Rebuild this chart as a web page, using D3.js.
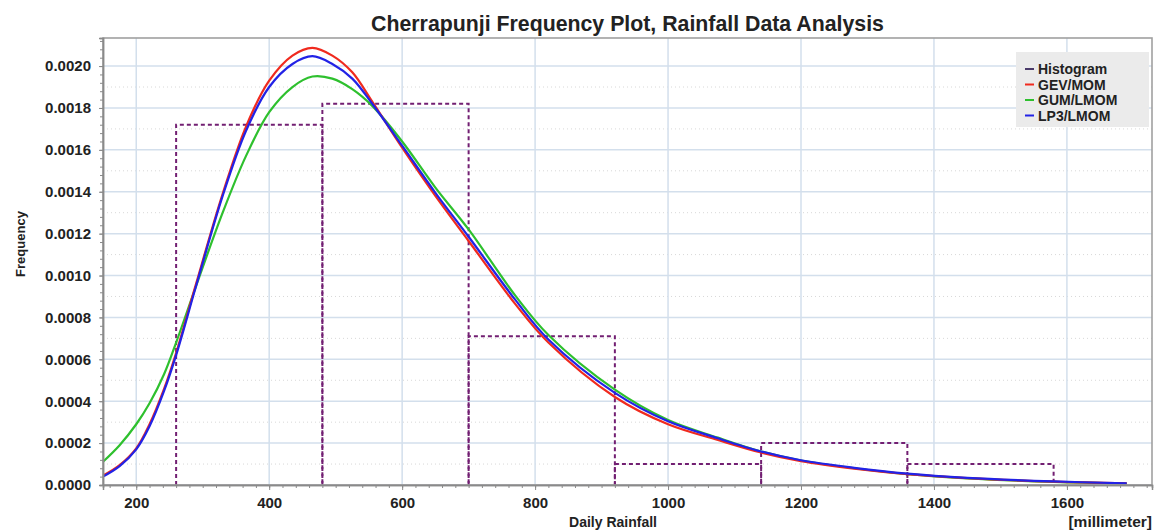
<!DOCTYPE html>
<html>
<head>
<meta charset="utf-8">
<script src="https://cdn.jsdelivr.net/npm/d3@7"></script>
<style>
body { margin: 0; background: #fff; }
svg text { font-family: "Liberation Sans", Arial, sans-serif; font-weight: bold; fill: #222; }
</style>
</head>
<body>
<svg id="chart" width="1155" height="530"></svg>
<script>
// histogram bins (edges + density)
var binEdges = [260, 480, 700, 920, 1140, 1360, 1580];
var binFreq = [0.00172, 0.00182, 0.00071, 0.00010, 0.00020, 0.00010];

// fitted curves
var rain = [150, 175, 200, 220, 242, 260, 290, 330, 365, 400, 435, 465, 495, 525, 555, 600, 650, 700, 770, 820, 920, 1000, 1075, 1140, 1200, 1280, 1360, 1450, 1580, 1690];
var gevMom = [0.000045, 0.000095, 0.000175, 0.000290, 0.000460, 0.000630, 0.000960, 0.001390, 0.001710, 0.001930, 0.002050, 0.002087, 0.002050, 0.001970, 0.001830, 0.001610, 0.001380, 0.001165, 0.000865, 0.000680, 0.000420, 0.000290, 0.000215, 0.000155, 0.000114, 0.000078, 0.000052, 0.000033, 0.000016, 0.000008];
var gumLmom = [0.000111, 0.000190, 0.000290, 0.000390, 0.000530, 0.000680, 0.000950, 0.001300, 0.001570, 0.001780, 0.001900, 0.001950, 0.001940, 0.001890, 0.001810, 0.001640, 0.001420, 0.001220, 0.000905, 0.000716, 0.000455, 0.000310, 0.000226, 0.000160, 0.000117, 0.000080, 0.000052, 0.000032, 0.000015, 0.000007];
var lp3Lmom = [0.000040, 0.000090, 0.000170, 0.000280, 0.000450, 0.000620, 0.000950, 0.001380, 0.001690, 0.001900, 0.002010, 0.002047, 0.002010, 0.001940, 0.001820, 0.001620, 0.001395, 0.001185, 0.000885, 0.000695, 0.000440, 0.000304, 0.000223, 0.000160, 0.000118, 0.000082, 0.000054, 0.000034, 0.000017, 0.000008];

var xTicks = [200, 400, 600, 800, 1000, 1200, 1400, 1600];
var yTicks = [0, 0.0002, 0.0004, 0.0006, 0.0008, 0.0010, 0.0012, 0.0014, 0.0016, 0.0018, 0.0020];
var legendNames = ["Histogram", "GEV/MOM", "GUM/LMOM", "LP3/LMOM"];

var colors = { hist: "#721f72", gev: "#f02a1e", gum: "#2ec02e", lp3: "#2222e6" };
var legendColors = ["#4a3a6a", colors.gev, colors.gum, colors.lp3];

var pLeft = 103, pRight = 1152, pTop = 38, pBottom = 485;

var svg = d3.select("#chart");

var x = d3.scaleLinear().domain([150, 1728]).range([pLeft, pRight]);
var y = d3.scaleLinear().domain([0, 0.002134]).range([pBottom, pTop]);

// minor grid (dotted)
svg.append("g")
    .selectAll("line")
    .data(d3.range(0.0001, 0.0021, 0.0002))
    .enter().append("line")
    .attr("x1", pLeft).attr("x2", pRight)
    .attr("y1", function(d) { return y(d); })
    .attr("y2", function(d) { return y(d); })
    .attr("stroke", "#d8d8d8")
    .attr("stroke-dasharray", "1,3");

// major grid
svg.append("g")
    .selectAll("line")
    .data(yTicks)
    .enter().append("line")
    .attr("x1", pLeft).attr("x2", pRight)
    .attr("y1", function(d) { return y(d); })
    .attr("y2", function(d) { return y(d); })
    .attr("stroke", "#d3dfec")
    .attr("stroke-width", 1.5);

svg.append("g")
    .selectAll("line")
    .data(xTicks)
    .enter().append("line")
    .attr("y1", pTop).attr("y2", pBottom)
    .attr("x1", function(d) { return x(d); })
    .attr("x2", function(d) { return x(d); })
    .attr("stroke", "#d3dfec")
    .attr("stroke-width", 1.5);

// histogram, one dashed outline per bin
var bins = binFreq.map(function(f, i) {
    return { x0: binEdges[i], x1: binEdges[i + 1], f: f };
});

svg.append("g")
    .selectAll("path")
    .data(bins)
    .enter().append("path")
    .attr("d", function(d) {
        return "M" + x(d.x0) + "," + y(0) + "V" + y(d.f) + "H" + x(d.x1) + "V" + y(0);
    })
    .attr("fill", "none")
    .attr("stroke", colors.hist)
    .attr("stroke-width", 2)
    .attr("stroke-dasharray", "4,3");

// curves
var line = d3.line()
    .curve(d3.curveCatmullRom.alpha(0.5))
    .x(function(d) { return x(d[0]); })
    .y(function(d) { return y(d[1]); });

var series = [
    { vals: gumLmom, color: colors.gum },
    { vals: gevMom, color: colors.gev },
    { vals: lp3Lmom, color: colors.lp3 }
];

series.forEach(function(s) {
    svg.append("path")
        .datum(rain.map(function(r, i) { return [r, s.vals[i]]; }))
        .attr("fill", "none")
        .attr("stroke", s.color)
        .attr("stroke-width", 2.2)
        .attr("d", line);
});

// frame
svg.append("rect")
    .attr("x", pLeft).attr("y", pTop)
    .attr("width", pRight - pLeft).attr("height", pBottom - pTop)
    .attr("fill", "none")
    .attr("stroke", "#a0a0a0")
    .attr("stroke-width", 1.6);

// axes
var xAxis = svg.append("g")
    .attr("transform", "translate(0," + pBottom + ")")
    .call(d3.axisBottom(x).tickValues(xTicks).tickSize(5).tickPadding(7).tickFormat(d3.format("d")));

svg.append("g")
    .attr("transform", "translate(0," + pBottom + ")")
    .call(d3.axisBottom(x).tickValues(d3.range(160, 1728, 20)).tickSize(3).tickFormat(""));

var yAxis = svg.append("g")
    .attr("transform", "translate(" + pLeft + ",0)")
    .call(d3.axisLeft(y).tickValues(yTicks).tickSize(4).tickPadding(8).tickFormat(d3.format(".4f")));

svg.append("g")
    .attr("transform", "translate(" + pLeft + ",0)")
    .call(d3.axisLeft(y).tickValues(d3.range(0, 0.00213, 0.00004)).tickSize(3).tickFormat(""));

svg.selectAll(".domain").attr("stroke", "#8a8a8a").attr("stroke-width", 1.5);
svg.selectAll(".tick line").attr("stroke", "#8a8a8a");
svg.selectAll("g").attr("font-family", null);
xAxis.selectAll("text").attr("font-size", 15);
yAxis.selectAll("text").attr("font-size", 15);

// titles
svg.append("text")
    .attr("x", (pLeft + pRight) / 2).attr("y", 31)
    .attr("text-anchor", "middle")
    .attr("font-size", 21.3)
    .text("Cherrapunji Frequency Plot, Rainfall Data Analysis");

svg.append("text")
    .attr("transform", "translate(25,244) rotate(-90)")
    .attr("text-anchor", "middle")
    .attr("font-size", 13)
    .text("Frequency");

svg.append("text")
    .attr("x", 613).attr("y", 527)
    .attr("text-anchor", "middle")
    .attr("font-size", 14)
    .text("Daily Rainfall");

svg.append("text")
    .attr("x", pRight).attr("y", 527)
    .attr("text-anchor", "end")
    .attr("font-size", 15.5)
    .text("[millimeter]");

// legend
var legend = svg.append("g");

legend.append("rect")
    .attr("x", 1016).attr("y", 52)
    .attr("width", 133).attr("height", 75)
    .attr("fill", "#ebebeb");

var item = legend.selectAll(".item")
    .data(legendNames)
    .enter().append("g")
    .attr("class", "item")
    .attr("transform", function(d, i) { return "translate(1025," + (69 + i * 15.5) + ")"; });

item.append("line")
    .attr("x1", 0).attr("x2", 9)
    .attr("stroke", function(d, i) { return legendColors[i]; })
    .attr("stroke-width", 2);

item.append("text")
    .attr("x", 13).attr("dy", "0.36em")
    .attr("font-size", 14)
    .text(function(d) { return d; });
</script>
</body>
</html>
